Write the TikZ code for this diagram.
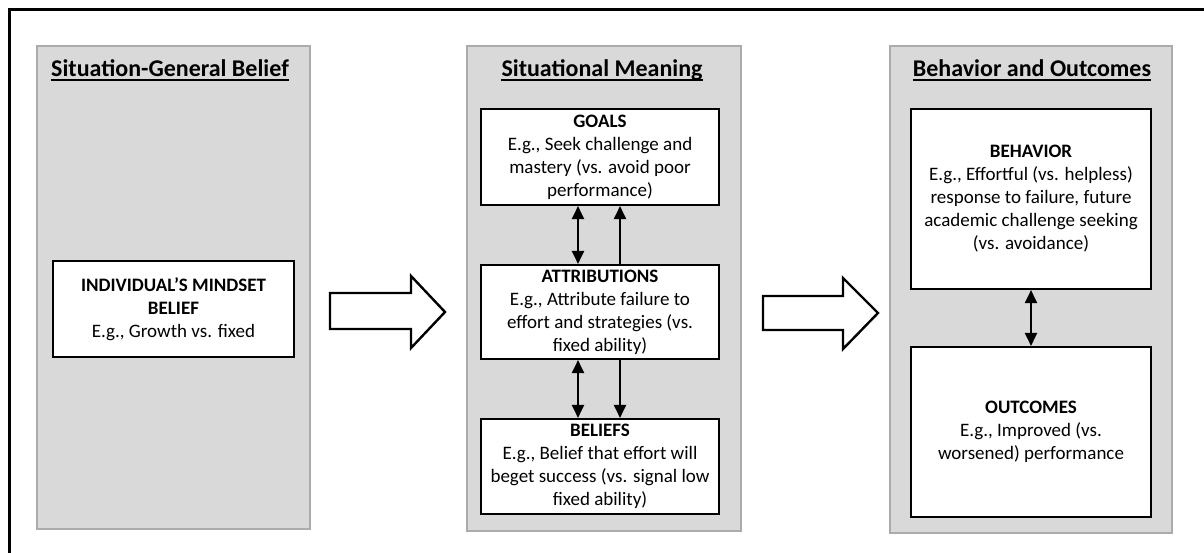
\documentclass[tikz,border=0pt]{standalone}
\usepackage{fontspec}
\setmainfont{Carlito}
\usetikzlibrary{arrows.meta}

\begin{document}
\begin{tikzpicture}[x=1pt,y=-1pt,
    panel/.style={draw=black!33, fill=black!15, line width=1.5pt},
    box/.style={draw, fill=white, line width=2.1pt, align=center, inner sep=0pt,
        font=\fontsize{19}{23}\selectfont},
    heading/.style={font=\fontsize{24}{28}\selectfont\bfseries, inner sep=0pt, anchor=base},
    link/.style={line width=2pt, -{Triangle[width=12pt,length=13pt]}},
    both/.style={line width=2pt, {Triangle[width=12pt,length=13pt]}-{Triangle[width=12pt,length=13pt]}},
    bigarrow/.style={draw, line width=2.4pt, fill=white, line join=miter}]

    \useasboundingbox (0,0) rectangle (1204,553);
    \draw [line width=3pt] (9,553) -- (9,10) -- (1204,10);

    \draw [panel] (37,46) rectangle (310,529);
    \draw [panel] (467,46) rectangle (741,531);
    \draw [panel] (890,46) rectangle (1172,533);

    \node [heading] (t1) at (170,77) {Situation-General Belief};
    \node [heading] (t2) at (602,77) {Situational Meaning};
    \node [heading] (t3) at (1032,77) {Behavior and Outcomes};
    \draw [line width=2pt] ([yshift=-3.5pt]t1.base west) -- ([yshift=-3.5pt]t1.base east);
    \draw [line width=2pt] ([yshift=-3.5pt]t2.base west) -- ([yshift=-3.5pt]t2.base east);
    \draw [line width=2pt] ([yshift=-3.5pt]t3.base west) -- ([yshift=-3.5pt]t3.base east);

    \node [box, minimum width=241pt, minimum height=96pt] (mindset) at (173.5,309)
        {\textbf{INDIVIDUAL’S MINDSET}\\ \textbf{BELIEF}\\ E.g., Growth vs. fixed};

    \node [box, minimum width=238pt, minimum height=96pt] (goals) at (600,157)
        {\textbf{GOALS}\\ E.g., Seek challenge and\\ mastery (vs. avoid poor\\ performance)};
    \node [box, minimum width=238pt, minimum height=94pt] (attr) at (600,312)
        {\textbf{ATTRIBUTIONS}\\ E.g., Attribute failure to\\ effort and strategies (vs.\\ fixed ability)};
    \node [box, minimum width=238pt, minimum height=95pt] (beliefs) at (600,466.5)
        {\textbf{BELIEFS}\\ E.g., Belief that effort will\\ beget success (vs. signal low\\ fixed ability)};

    \node [box, minimum width=240pt, minimum height=180pt] (behavior) at (1031,199)
        {\textbf{BEHAVIOR}\\ E.g., Effortful (vs. helpless)\\ response to failure, future\\ academic challenge seeking\\ (vs. avoidance)};
    \node [box, minimum width=240pt, minimum height=170pt] (outcomes) at (1031,432)
        {\textbf{OUTCOMES}\\ E.g., Improved (vs.\\ worsened) performance};

    \draw [bigarrow] (330,293) -- (411,293) -- (411,276) -- (445,312) -- (411,348) -- (411,329) -- (330,329) -- cycle;
    \draw [bigarrow] (763,296) -- (843,296) -- (843,278) -- (878,313) -- (843,349) -- (843,330) -- (763,330) -- cycle;

    \draw [both] ([xshift=-22pt]goals.south) -- ([xshift=-22pt]attr.north);
    \draw [link] ([xshift=20pt]attr.north) -- ([xshift=20pt]goals.south);
    \draw [both] ([xshift=-22pt]attr.south) -- ([xshift=-22pt]beliefs.north);
    \draw [link] ([xshift=20pt]attr.south) -- ([xshift=20pt]beliefs.north);
    \draw [both] (behavior.south) -- (outcomes.north);

\end{tikzpicture}
\end{document}
